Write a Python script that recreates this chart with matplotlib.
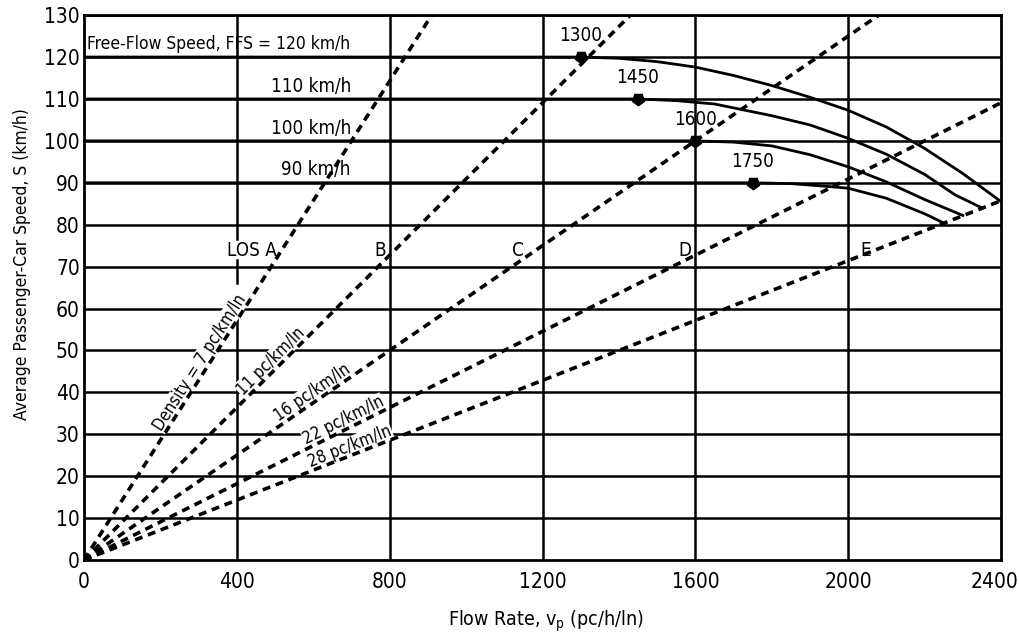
import numpy as np
import matplotlib.pyplot as plt
from matplotlib.transforms import ScaledTranslation

plt.rcParams['font.family'] = ['DejaVu Sans']
plt.rcParams['font.stretch'] = 'condensed'
plt.rcParams['mathtext.fontset'] = 'custom'
plt.rcParams['mathtext.rm'] = 'DejaVu Sans:stretch=condensed'
plt.rcParams['mathtext.it'] = 'DejaVu Sans:stretch=condensed'

# speed-flow curves (pc/h/ln, km/h)
flow_120 = [0, 1300, 1400, 1500, 1600, 1700, 1800, 1900, 2000, 2100, 2200, 2300, 2400]
speed_120 = [120, 120, 119.7, 118.9, 117.6, 115.6, 113.2, 110.4, 107.3, 103.3, 98.2, 92.2, 85.5]
flow_110 = [0, 1450, 1550, 1650, 1800, 1900, 2000, 2100, 2200, 2280, 2350]
speed_110 = [110, 110, 109.6, 108.8, 106.0, 103.8, 100.6, 96.8, 92.0, 87.1, 84.0]
flow_100 = [0, 1600, 1700, 1800, 1900, 2000, 2100, 2200, 2300]
speed_100 = [100, 100, 99.7, 98.8, 96.7, 93.8, 90.2, 86.0, 82.2]
flow_90 = [0, 1750, 1850, 1950, 2000, 2100, 2200, 2250]
speed_90 = [90, 90, 89.8, 89.1, 88.7, 86.3, 82.6, 80.4]

break_flow = [1300, 1450, 1600, 1750]
break_speed = [120, 110, 100, 90]

densities = [7, 11, 16, 22, 28]
density_end_flow = [910, 1430, 2080, 2400, 2400]
density_labels = ['Density = 7 pc/km/ln', '11 pc/km/ln', '16 pc/km/ln',
                  '22 pc/km/ln', '28 pc/km/ln']

los_labels = ['LOS A', 'B', 'C', 'D', 'E']
x_ticks = [0, 400, 800, 1200, 1600, 2000, 2400]
y_ticks = list(range(0, 131, 10))

fig = plt.figure(figsize=(10.19, 6.41), dpi=100)
ax = fig.add_axes([0.0824, 0.1264, 0.900, 0.850])
ax.set_xlim(0, 2400)
ax.set_ylim(0, 130)

# grid (line at 400 is broken around the LOS A label)
for y in y_ticks[1:]:
    ax.plot([0, 2400], [y, y], color='black', lw=1.8, zorder=1)
for x in x_ticks[1:-1]:
    if x == 400:
        for y0, y1 in [(0, 58.5), (66, 71.5), (76.5, 130)]:
            ax.plot([x, x], [y0, y1], color='black', lw=1.8, zorder=1)
    else:
        ax.plot([x, x], [0, 130], color='black', lw=1.8, zorder=1)

# density lines
for d, xe in zip(densities, density_end_flow):
    ax.plot([0, xe], [0, xe / d], color='black', lw=2.6, ls=(0, (2.2, 1.6)), zorder=4)

# speed-flow curves
for fl, sp in [(flow_120, speed_120), (flow_110, speed_110),
               (flow_100, speed_100), (flow_90, speed_90)]:
    ax.plot(fl, sp, color='black', lw=2.0, zorder=3)

ax.plot(break_flow, break_speed, ls='none', marker=(5, 0, 180), ms=9,
        color='black', zorder=5)
for f, s in zip(break_flow, break_speed):
    ax.text(f, s + 2.8, str(f), ha='center', va='bottom', fontsize=13.5, zorder=6)

ax.text(8, 123.2, 'Free-Flow Speed, FFS = 120 km/h', ha='left', va='center', fontsize=12.5, zorder=6)
ax.text(490, 110.8, '110 km/h', ha='left', va='bottom', fontsize=13.5, zorder=6)
ax.text(490, 100.8, '100 km/h', ha='left', va='bottom', fontsize=13.5, zorder=6)
ax.text(515, 90.8, '90 km/h', ha='left', va='bottom', fontsize=13.5, zorder=6)

# density labels, sitting on top of their lines
label_x = [322, 505, 612, 690, 705]
p0 = ax.transData.transform((0, 0))
for d, txt, lx in zip(densities, density_labels, label_x):
    p1 = ax.transData.transform((1000, 1000 / d))
    ang = np.degrees(np.arctan2(p1[1] - p0[1], p1[0] - p0[0]))
    ax.text(lx, lx / d, txt, rotation=ang, rotation_mode='anchor', ha='center', va='bottom',
            fontsize=12, zorder=2,
            bbox=dict(facecolor='white', edgecolor='none', pad=0.2))

los_x = [440, 775, 1135, 1572, 2045]
for lx, txt in zip(los_x, los_labels):
    ax.text(lx, 73.8, txt, ha='center', va='center', fontsize=13.5, zorder=6)

ax.set_xticks(x_ticks)
ax.set_yticks(y_ticks)
ax.tick_params(length=0, labelsize=15)
ax.tick_params(axis='x', pad=9)
ax.tick_params(axis='y', pad=3)
for sp in ax.spines.values():
    sp.set_linewidth(2)
# keep the last x tick label inside the figure
last = ax.get_xticklabels()[-1]
last.set_transform(last.get_transform() + ScaledTranslation(-5 / 72, 0, fig.dpi_scale_trans))

fig.text(0.536, 1 - 621 / 641, r'Flow Rate, $\mathregular{v_p}$ (pc/h/ln)',
         ha='center', va='center', fontsize=14)
fig.text(22 / 1019, 1 - 264 / 641, 'Average Passenger-Car Speed, S (km/h)',
         rotation=90, ha='center', va='center', fontsize=12.5)

fig.savefig('out.png', dpi=100)
